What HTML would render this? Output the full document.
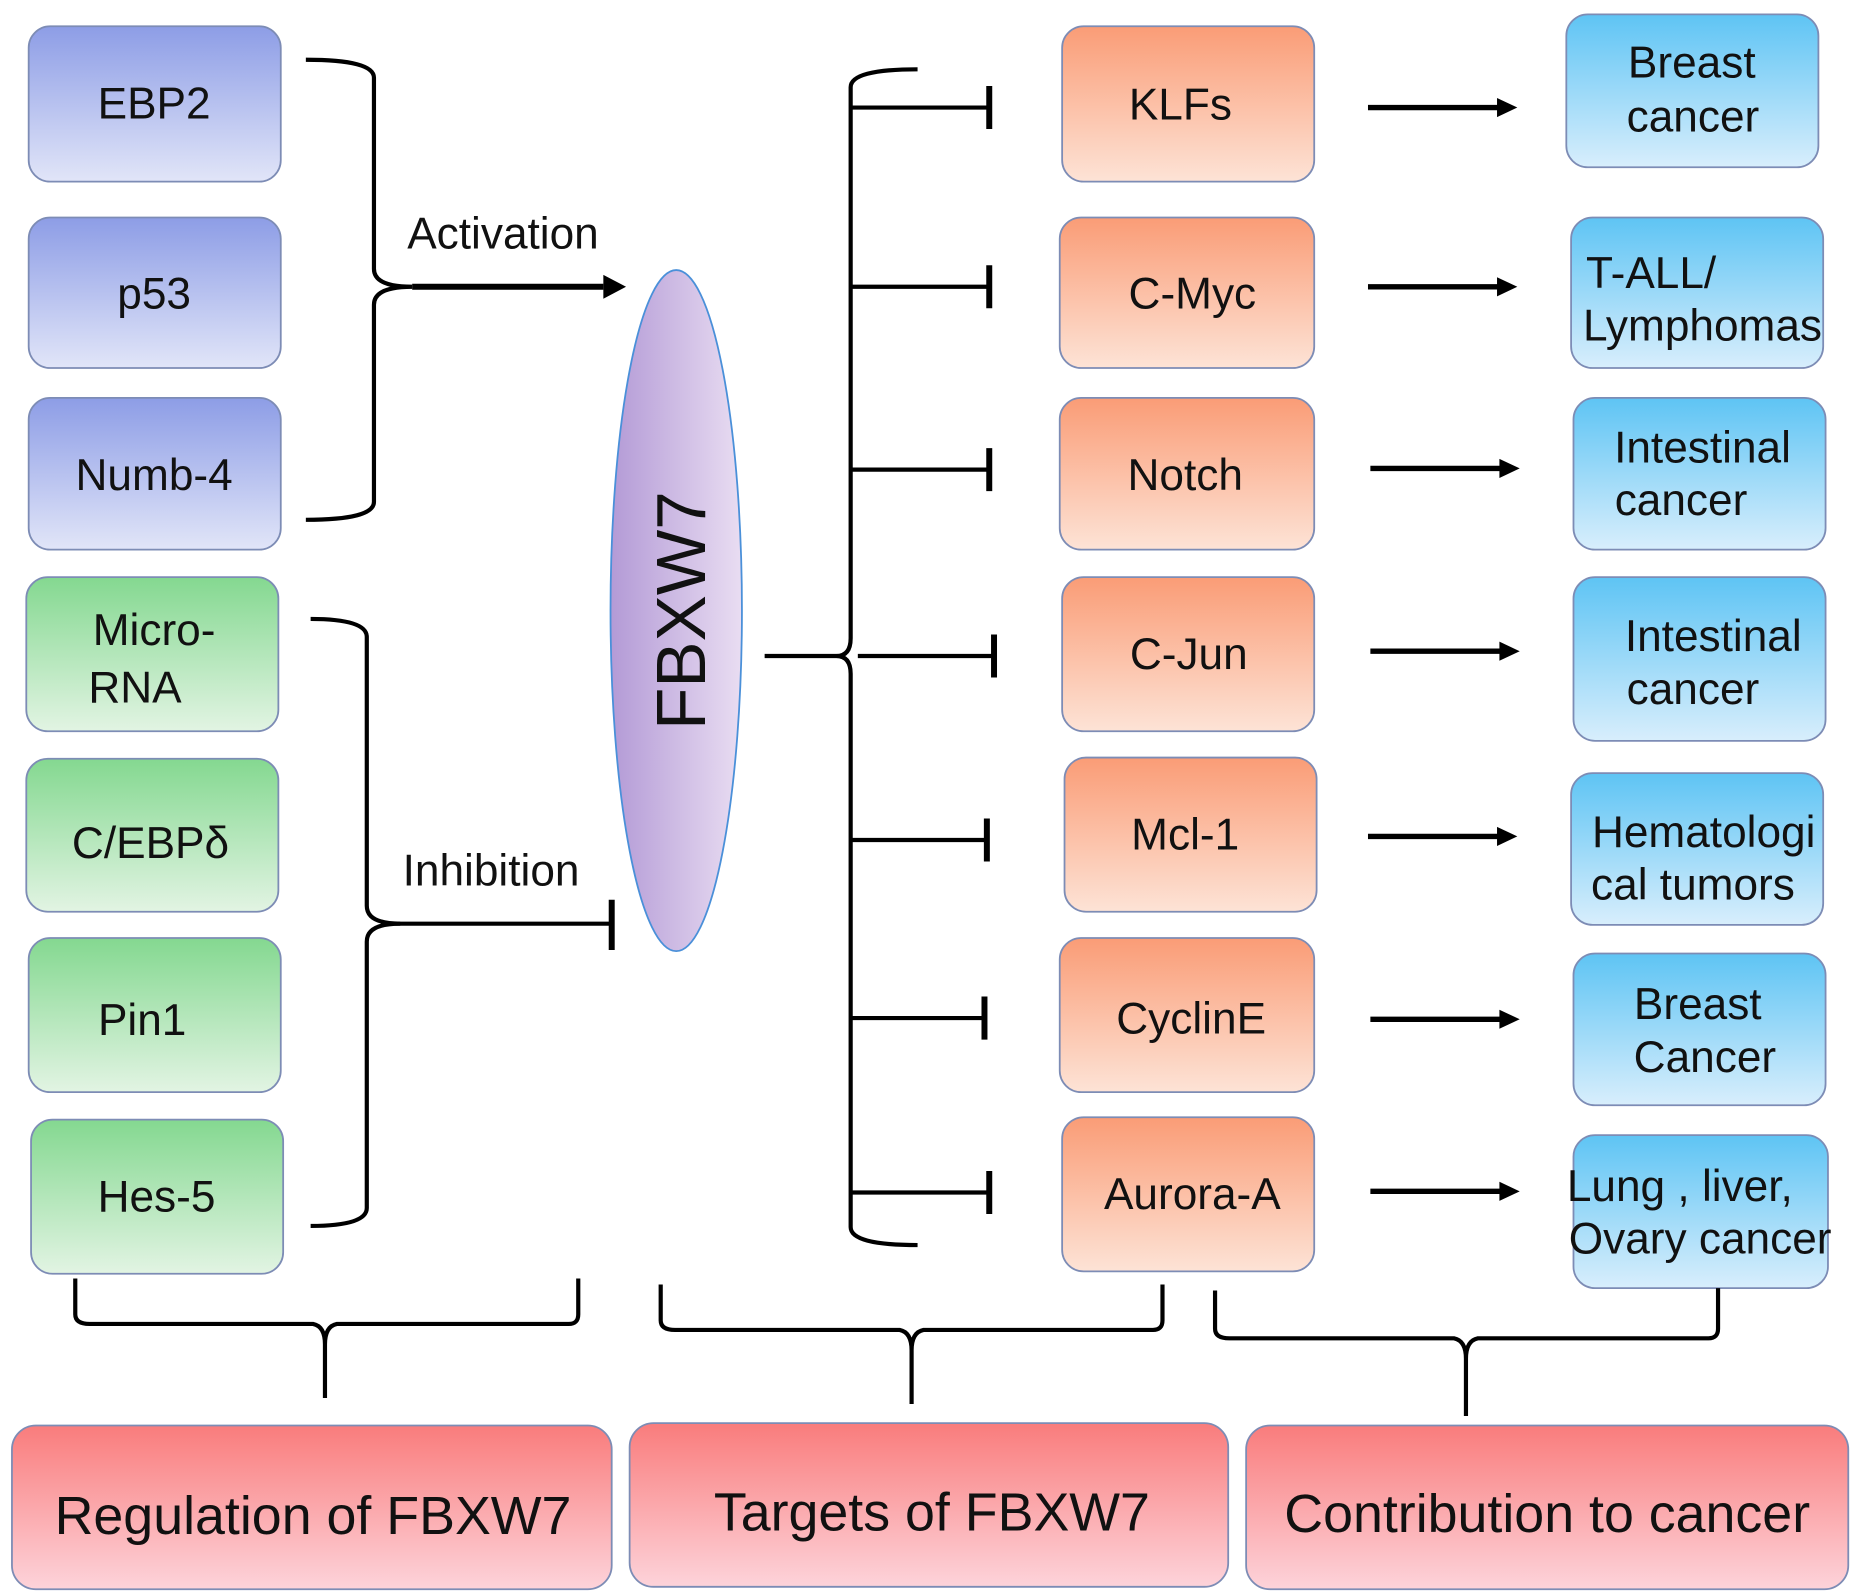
<!DOCTYPE html>
<html><head><meta charset="utf-8"><style>html,body{margin:0;padding:0;background:#fff}svg{display:block}</style></head>
<body>
<svg width="1865" height="1594" viewBox="0 0 1561 1334" preserveAspectRatio="none" xmlns="http://www.w3.org/2000/svg" font-family="Liberation Sans, Arial, sans-serif">
<defs>
<linearGradient id="gb" x1="0" y1="0" x2="0" y2="1"><stop offset="0" stop-color="#8d9de6"/><stop offset="1" stop-color="#e1e5f8"/></linearGradient>
<linearGradient id="gg" x1="0" y1="0" x2="0" y2="1"><stop offset="0" stop-color="#84d890"/><stop offset="1" stop-color="#e2f4e3"/></linearGradient>
<linearGradient id="go" x1="0" y1="0" x2="0" y2="1"><stop offset="0" stop-color="#fa9c76"/><stop offset="1" stop-color="#fde3d6"/></linearGradient>
<linearGradient id="gc" x1="0" y1="0" x2="0" y2="1"><stop offset="0" stop-color="#5ec4f4"/><stop offset="1" stop-color="#d8eefc"/></linearGradient>
<linearGradient id="gr" x1="0" y1="0" x2="0" y2="1"><stop offset="0" stop-color="#f97c7c"/><stop offset="1" stop-color="#fdd3da"/></linearGradient>
<linearGradient id="ge" x1="0" y1="0" x2="1" y2="0"><stop offset="0" stop-color="#b39ad6"/><stop offset="1" stop-color="#e9ddf2"/></linearGradient>
</defs>
<g stroke="#7d8cb5" stroke-width="1.5">
<rect x="24" y="22" width="211" height="130" rx="18" fill="url(#gb)"/>
<rect x="24" y="182" width="211" height="126" rx="18" fill="url(#gb)"/>
<rect x="24" y="333" width="211" height="127" rx="18" fill="url(#gb)"/>
<rect x="22" y="483" width="211" height="129" rx="18" fill="url(#gg)"/>
<rect x="22" y="635" width="211" height="128" rx="18" fill="url(#gg)"/>
<rect x="24" y="785" width="211" height="129" rx="18" fill="url(#gg)"/>
<rect x="26" y="937" width="211" height="129" rx="18" fill="url(#gg)"/>
<rect x="889" y="22" width="211" height="130" rx="18" fill="url(#go)"/>
<rect x="887" y="182" width="213" height="126" rx="18" fill="url(#go)"/>
<rect x="887" y="333" width="213" height="127" rx="18" fill="url(#go)"/>
<rect x="889" y="483" width="211" height="129" rx="18" fill="url(#go)"/>
<rect x="891" y="634" width="211" height="129" rx="18" fill="url(#go)"/>
<rect x="887" y="785" width="213" height="129" rx="18" fill="url(#go)"/>
<rect x="889" y="935" width="211" height="129" rx="18" fill="url(#go)"/>
<rect x="1311" y="12" width="211" height="128" rx="18" fill="url(#gc)"/>
<rect x="1315" y="182" width="211" height="126" rx="18" fill="url(#gc)"/>
<rect x="1317" y="333" width="211" height="127" rx="18" fill="url(#gc)"/>
<rect x="1317" y="483" width="211" height="137" rx="18" fill="url(#gc)"/>
<rect x="1315" y="647" width="211" height="127" rx="18" fill="url(#gc)"/>
<rect x="1317" y="798" width="211" height="127" rx="18" fill="url(#gc)"/>
<rect x="1317" y="950" width="213" height="128" rx="18" fill="url(#gc)"/>
<rect x="10" y="1193" width="502" height="137" rx="20" fill="url(#gr)"/>
<rect x="527" y="1191" width="501" height="137" rx="20" fill="url(#gr)"/>
<rect x="1043" y="1193" width="504" height="137" rx="20" fill="url(#gr)"/>
</g>
<ellipse cx="566" cy="511" rx="55" ry="285" fill="url(#ge)" stroke="#4a90d9" stroke-width="1.5"/>
<g fill="none" stroke="#000" stroke-width="3.5">
<path d="M256,50 Q313,50 313,65 L313,225 Q313,240 345,240 Q313,240 313,255 L313,420 Q313,435 256,435"/>
<path d="M345,240 L505,240" stroke-width="5"/>
<path d="M260,518 Q307,518 307,533 L307,758 Q307,773 335,773 Q307,773 307,788 L307,1011 Q307,1026 260,1026"/>
<path d="M320,773 L512,773"/>
<path d="M512,753 L512,795" stroke-width="5"/>
<path d="M768,58 Q712,58 712,73 L712,534 Q712,549 700,549 L640,549 M700,549 Q712,549 712,564 L712,1027 Q712,1042 768,1042"/>
<path d="M712,90H828M712,240H828M712,393H828M718,549H830M712,703H828M712,852H824M712,998H828"/>
<path d="M828,72V108M828,222V258M828,375V411M832,531V567M826,685V721M824,834V870M828,980V1016" stroke-width="5"/>
<path d="M1145,90H1255M1145,240H1255M1147,392H1257M1147,545H1257M1145,700H1255M1147,853H1257M1147,997H1257" stroke-width="4.5"/>
<path d="M63,1070 V1100 Q63,1108 75,1108 L262,1108 Q272,1110 272,1125 L272,1170 M272,1125 Q272,1110 282,1108 L476,1108 Q484,1108 484,1100 V1070"/>
<path d="M553,1075 V1105 Q553,1113 565,1113 L753,1113 Q763,1115 763,1130 L763,1175 M763,1130 Q763,1115 773,1113 L965,1113 Q973,1113 973,1105 V1075"/>
<path d="M1017,1080 V1112 Q1017,1120 1029,1120 L1217,1120 Q1227,1122 1227,1137 L1227,1185 M1227,1137 Q1227,1122 1237,1120 L1430,1120 Q1438,1120 1438,1112 V1078"/>
</g>
<g fill="#000">
<path d="M505,230 L524,240 L505,250Z"/>
<path d="M1253,82 L1270,90 L1253,98Z"/><path d="M1253,232 L1270,240 L1253,248Z"/>
<path d="M1255,384 L1272,392 L1255,400Z"/><path d="M1255,537 L1272,545 L1255,553Z"/>
<path d="M1253,692 L1270,700 L1253,708Z"/><path d="M1255,845 L1272,853 L1255,861Z"/>
<path d="M1255,989 L1272,997 L1255,1005Z"/>
</g>
<g font-size="37" fill="#111" text-anchor="middle">
<text x="129" y="99">EBP2</text>
<text x="129" y="258">p53</text>
<text x="129" y="410">Numb-4</text>
<text x="129" y="540">Micro-</text>
<text x="113" y="588">RNA</text>
<text x="126" y="718">C/EBPδ</text>
<text x="119" y="866">Pin1</text>
<text x="131" y="1014">Hes-5</text>
<text x="988" y="100">KLFs</text>
<text x="998" y="258">C-Myc</text>
<text x="992" y="410">Notch</text>
<text x="995" y="560">C-Jun</text>
<text x="992" y="711">Mcl-1</text>
<text x="997" y="865">CyclinE</text>
<text x="998" y="1012">Aurora-A</text>
<text x="1416" y="65">Breast</text>
<text x="1417" y="110">cancer</text>
<text x="1382" y="241">T-ALL/</text>
<text x="1425" y="285">Lymphomas</text>
<text x="1425" y="387">Intestinal</text>
<text x="1407" y="431">cancer</text>
<text x="1434" y="545">Intestinal</text>
<text x="1417" y="589">cancer</text>
<text x="1426" y="709">Hematologi</text>
<text x="1417" y="753">cal tumors</text>
<text x="1421" y="853">Breast</text>
<text x="1427" y="897">Cancer</text>
<text x="1406" y="1005">Lung , liver,</text>
<text x="1423" y="1049">Ovary cancer</text>
<text x="421" y="208">Activation</text>
<text x="411" y="741">Inhibition</text>
</g>
<text transform="translate(590,511) rotate(-90)" font-size="58" text-anchor="middle" fill="#111">FBXW7</text>
<g font-size="45" fill="#111" text-anchor="middle">
<text x="262" y="1284">Regulation of FBXW7</text>
<text x="780" y="1281">Targets of FBXW7</text>
<text x="1295" y="1282">Contribution to cancer</text>
</g>
</svg>
</body></html>
